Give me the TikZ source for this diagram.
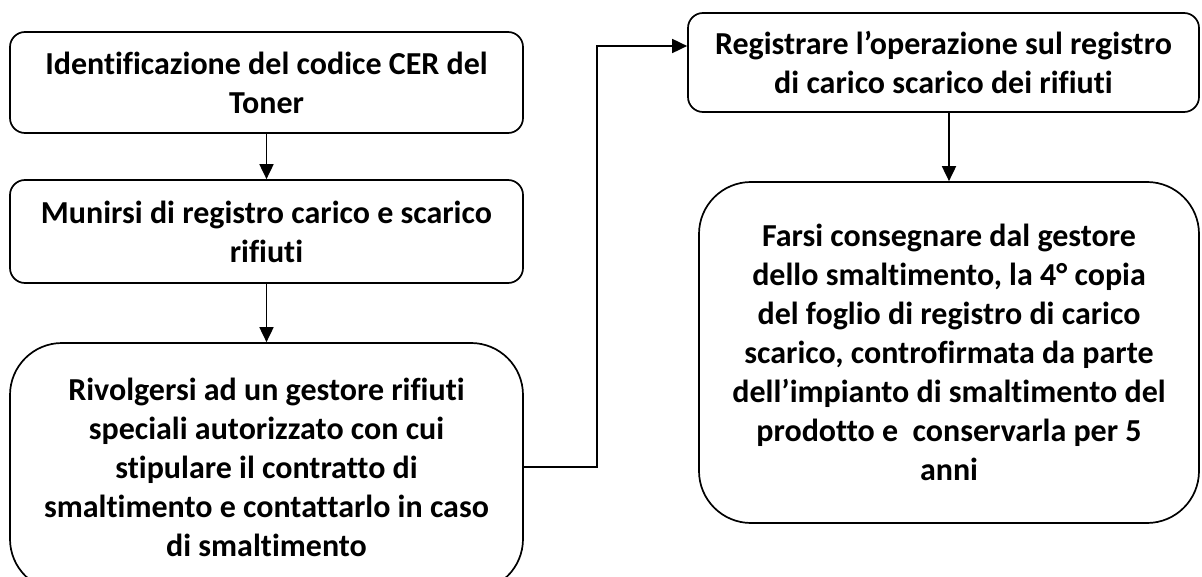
\documentclass[tikz,border=0pt]{standalone}
\usepackage{fontspec}
\setmainfont{Carlito}[Ligatures=NoCommon]
\usetikzlibrary{arrows.meta,calc}
\begin{document}
\begin{tikzpicture}[x=1pt,y=-1pt,
  box/.style={draw=black,line width=1.7pt,fill=white,align=center,inner sep=0pt,
    font=\fontsize{32}{39}\selectfont\bfseries},
  smallbox/.style={box,rounded corners=15pt},
  bigbox/.style={box,rounded corners=52pt},
  conn/.style={line width=1.8pt,-{Triangle[length=15pt,width=14pt]}}]
\useasboundingbox (0,0) rectangle (1202,577);
\node[smallbox,minimum width=513pt,minimum height=101pt] (b1) at (266.5,82.5)
  {Identificazione del codice CER del\\Toner};
\node[smallbox,minimum width=513pt,minimum height=103pt] (b2) at (266.5,231.5)
  {Munirsi di registro carico e scarico\\rifiuti};
\node[bigbox,minimum width=513pt,minimum height=248pt] (b3) at (266.5,467)
  {Rivolgersi ad un gestore rifiuti\\speciali autorizzato con cui\\stipulare il contratto di\\smaltimento e contattarlo in caso\\di smaltimento};
\node[smallbox,minimum width=511pt,minimum height=99pt] (b4) at (943.5,62.5)
  {Registrare l’operazione sul registro\\di carico scarico dei rifiuti};
\node[bigbox,minimum width=500pt,minimum height=341pt] (b5) at (949,352.5)
  {Farsi consegnare dal gestore\\dello smaltimento, la 4° copia\\del foglio di registro di carico\\scarico, controfirmata da parte\\dell’impianto di smaltimento del\\prodotto e~ conservarla per 5\\anni};
\coordinate (j) at (597,79);
\draw[conn] (b1) -- (b2);
\draw[conn] (b2) -- (b3);
\draw[conn] (b3.east) -| (j) |- ([yshift=16.5pt]b4.west);
\draw[conn] (b5.north |- b4.south) -- (b5.north);
\end{tikzpicture}
\end{document}
